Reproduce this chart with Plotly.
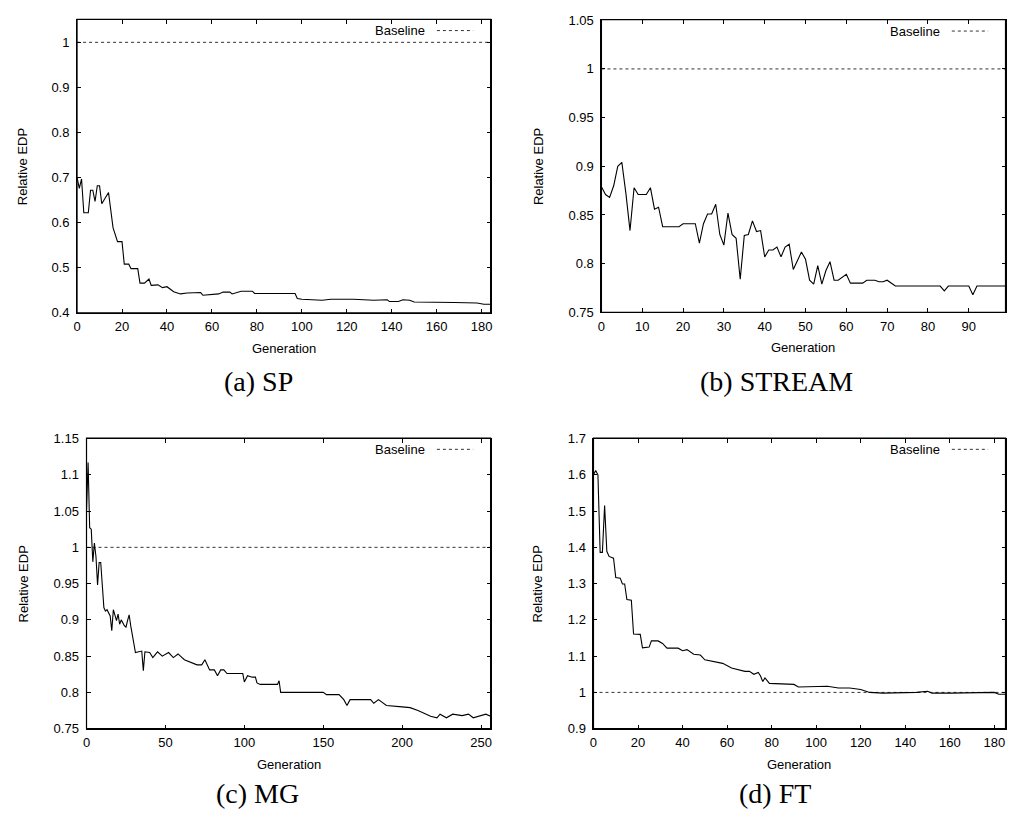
import plotly.graph_objects as go

# ---------------- data ----------------
gen_a = [0, 1, 2, 3, 5, 6, 7, 8, 9, 10, 11, 14, 16, 18, 20, 21, 23, 24, 27, 28, 30, 32, 33, 36, 38, 40, 43, 46, 49,
         52, 53, 55, 56, 59, 63, 65, 68, 69, 73, 78, 79, 97, 98, 100, 105, 109, 113, 117, 123, 132, 138, 139, 143,
         145, 148, 150, 160, 168, 178, 181, 184]
edp_a = [0.700, 0.676, 0.697, 0.622, 0.622, 0.672, 0.672, 0.647, 0.682, 0.682, 0.642, 0.667, 0.589, 0.558, 0.558,
         0.508, 0.508, 0.498, 0.498, 0.466, 0.466, 0.475, 0.461, 0.462, 0.456, 0.458, 0.447, 0.442, 0.444, 0.444,
         0.445, 0.445, 0.439, 0.440, 0.442, 0.446, 0.446, 0.442, 0.448, 0.448, 0.443, 0.443, 0.432, 0.430, 0.429,
         0.428, 0.430, 0.430, 0.430, 0.428, 0.429, 0.425, 0.425, 0.429, 0.428, 0.424, 0.424, 0.423, 0.422, 0.419,
         0.419]

gen_b = [0, 1, 2, 3, 4, 5, 6, 7, 8, 9, 11, 12, 13, 14, 15, 19, 20, 23, 24, 25, 26, 27, 28, 29, 30, 31, 32, 33, 34,
         35, 36, 37, 38, 39, 40, 41, 42, 43, 44, 45, 46, 47, 49, 50, 51, 52, 53, 54, 55, 56, 57, 58, 60, 61, 64, 65,
         67, 68, 69, 70, 72, 83, 84, 85, 90, 91, 92, 99]
edp_b = [0.879, 0.871, 0.868, 0.880, 0.900, 0.904, 0.872, 0.834, 0.878, 0.871, 0.871, 0.878, 0.856, 0.858, 0.838,
         0.838, 0.841, 0.841, 0.821, 0.841, 0.851, 0.851, 0.861, 0.830, 0.819, 0.852, 0.830, 0.826, 0.784, 0.829,
         0.830, 0.844, 0.833, 0.834, 0.807, 0.814, 0.814, 0.817, 0.807, 0.817, 0.820, 0.794, 0.812, 0.8045, 0.783,
         0.779, 0.798, 0.779, 0.793, 0.802, 0.783, 0.783, 0.789, 0.780, 0.780, 0.783, 0.783, 0.7815, 0.7815, 0.783,
         0.777, 0.777, 0.772, 0.777, 0.777, 0.768, 0.777, 0.777]

gen_c = [0, 1, 2, 3, 4, 5, 6, 7, 8, 9, 11, 12, 13, 15, 16, 17, 19, 20, 21, 22, 24, 25, 26, 27, 28, 30, 31, 35, 36,
         37, 40, 42, 45, 48, 52, 55, 58, 62, 66, 70, 73, 75, 78, 81, 83, 85, 87, 89, 99, 100, 102, 105, 107, 108,
         110, 121, 122, 123, 150, 152, 160, 163, 165, 167, 180, 182, 185, 190, 200, 205, 210, 213, 218, 222, 224,
         228, 232, 238, 242, 245, 250, 253, 256]
edp_c = [1.050, 1.117, 1.027, 1.025, 0.980, 1.006, 0.987, 0.948, 0.979, 0.979, 0.917, 0.912, 0.914, 0.9055, 0.885,
         0.914, 0.899, 0.908, 0.894, 0.900, 0.892, 0.890, 0.899, 0.907, 0.892, 0.865, 0.855, 0.857, 0.830, 0.856,
         0.855, 0.848, 0.856, 0.850, 0.855, 0.848, 0.853, 0.845, 0.842, 0.838, 0.838, 0.845, 0.831, 0.831, 0.823,
         0.831, 0.831, 0.826, 0.826, 0.8145, 0.823, 0.821, 0.821, 0.813, 0.811, 0.811, 0.816, 0.800, 0.800, 0.797,
         0.797, 0.790, 0.782, 0.790, 0.790, 0.785, 0.790, 0.782, 0.780, 0.779, 0.775, 0.772, 0.767, 0.765, 0.770,
         0.765, 0.770, 0.768, 0.770, 0.765, 0.768, 0.770, 0.767]

gen_d = [0, 1, 2, 3, 4, 5, 6, 7, 9, 10, 12, 13, 14, 15, 17, 18, 21, 22, 25, 26, 29, 31, 33, 38, 40, 42, 45, 48, 50,
         55, 58, 62, 68, 70, 72, 74, 75, 76, 77, 79, 90, 92, 100, 105, 110, 115, 120, 124, 130, 140, 145, 150, 152,
         160, 170, 180, 182, 185]
edp_d = [1.600, 1.612, 1.600, 1.386, 1.386, 1.515, 1.389, 1.375, 1.370, 1.317, 1.315, 1.299, 1.299, 1.256, 1.254,
         1.161, 1.160, 1.123, 1.125, 1.142, 1.142, 1.135, 1.122, 1.122, 1.115, 1.118, 1.105, 1.103, 1.090, 1.085,
         1.080, 1.067, 1.058, 1.058, 1.050, 1.055, 1.045, 1.030, 1.040, 1.025, 1.022, 1.015, 1.015, 1.017, 1.012,
         1.012, 1.008, 1.000, 0.998, 0.999, 1.000, 1.003, 0.998, 0.998, 0.999, 1.000, 0.995, 0.995]

baseline = 1.0
captions = ["(a) SP", "(b) STREAM", "(c) MG", "(d) FT"]
x_title = "Generation"
y_title = "Relative EDP"
legend_label = "Baseline"

panels = [
    dict(gen=gen_a, edp=edp_a, xr=[0, 184], yr=[0.4, 1.05], xt=list(range(0, 181, 20)),
         yt=[0.4, 0.5, 0.6, 0.7, 0.8, 0.9, 1.0]),
    dict(gen=gen_b, edp=edp_b, xr=[0, 99], yr=[0.75, 1.05], xt=list(range(0, 91, 10)),
         yt=[0.75, 0.8, 0.85, 0.9, 0.95, 1.0, 1.05]),
    dict(gen=gen_c, edp=edp_c, xr=[0, 256], yr=[0.75, 1.15], xt=list(range(0, 251, 50)),
         yt=[0.75, 0.8, 0.85, 0.9, 0.95, 1.0, 1.05, 1.1, 1.15]),
    dict(gen=gen_d, edp=edp_d, xr=[0, 185], yr=[0.9, 1.7], xt=list(range(0, 181, 20)),
         yt=[0.9, 1.0, 1.1, 1.2, 1.3, 1.4, 1.5, 1.6, 1.7]),
]

# ---------------- layout geometry (pixels) ----------------
W, H = 1010, 827
boxes = [  # left, right, top, bottom in pixels
    (73.5, 489.5, 13, 311.5),
    (601, 1007.5, 13.5, 311),
    (83, 489.5, 439.5, 735),
    (593, 1007.5, 439.5, 735),
]
ytitle_x = [18, 537, 20, 537]
caption_pos = [(256, 381), (777, 381), (255, 801), (776, 801)]

fig = go.Figure()
tickfont = dict(family="Liberation Sans, Arial, sans-serif", size=13, color="black")
annotations = []
shapes = []
axcommon = dict(showline=True, linecolor="black", linewidth=1, mirror="ticks", ticks="inside",
                ticklen=4, tickcolor="black", tickwidth=1, showgrid=False, zeroline=False,
                tickfont=tickfont)

for i, (p, box) in enumerate(zip(panels, boxes)):
    n = "" if i == 0 else str(i + 1)
    xa, ya = "x" + n, "y" + n
    xt_name = "x" + str(i + 5)  # top tick axis
    L, R, T, B = box
    fig.add_trace(go.Scatter(x=p["xr"], y=[baseline, baseline], mode="lines", xaxis=xa, yaxis=ya,
                             line=dict(color="#333333", width=1, dash="dot"), showlegend=False,
                             name=legend_label, hoverinfo="skip"))
    fig.add_trace(go.Scatter(x=p["gen"], y=p["edp"], mode="lines", xaxis=xa, yaxis=ya,
                             line=dict(color="black", width=1.1), showlegend=False))
    # invisible trace so that the top tick axis is drawn
    fig.add_trace(go.Scatter(x=p["xr"], y=[baseline, baseline], mode="lines", xaxis=xt_name, yaxis=ya,
                             line=dict(width=0), opacity=0, showlegend=False, hoverinfo="skip"))
    fig.update_layout({
        "xaxis" + n: dict(domain=[L / W, R / W], anchor=ya, range=p["xr"], tickvals=p["xt"],
                          ticklabelstandoff=2, **axcommon),
        "yaxis" + n: dict(domain=[1 - B / H, 1 - T / H], anchor=xa, range=p["yr"], tickvals=p["yt"],
                          ticklabelstandoff=4, **axcommon),
        "xaxis" + str(i + 5): dict(overlaying=xa, anchor=ya, side="top", range=p["xr"], tickvals=p["xt"],
                                   showticklabels=False, showline=True, linecolor="black", linewidth=1,
                                   ticks="inside", ticklen=4, tickcolor="black", tickwidth=1,
                                   showgrid=False, zeroline=False),
    })
    # frame drawn in paper coordinates (never clipped)
    shapes.append(dict(type="rect", xref="paper", yref="paper", x0=L / W, x1=R / W,
                       y0=1 - B / H, y1=1 - (T - 0.5) / H,
                       line=dict(color="black", width=1.2), layer="above"))
    # axis titles
    annotations.append(dict(x=(L + R) / 2 / W, y=1 - (B + 36) / H, xref="paper", yref="paper",
                            text=x_title, showarrow=False, xanchor="center", yanchor="middle",
                            font=tickfont))
    annotations.append(dict(x=ytitle_x[i] / W, y=1 - (T + B) / 2 / H, xref="paper", yref="paper",
                            text=y_title, showarrow=False, textangle=-90, xanchor="center",
                            yanchor="middle", font=tickfont))
    # caption
    cx, cy = caption_pos[i]
    annotations.append(dict(x=cx / W, y=1 - cy / H, xref="paper", yref="paper", text=captions[i],
                            showarrow=False, xanchor="center", yanchor="middle",
                            font=dict(family="Liberation Serif, Times New Roman, serif", size=28,
                                      color="black")))
    # legend key (text left of the line sample, as in the original)
    ly = T + 11
    annotations.append(dict(x=(R - 64) / W, y=1 - ly / H, xref="paper", yref="paper", text=legend_label,
                            showarrow=False, xanchor="right", yanchor="middle", font=tickfont))
    shapes.append(dict(type="line", xref="paper", yref="paper", x0=(R - 54) / W, x1=(R - 17.5) / W,
                       y0=1 - ly / H, y1=1 - ly / H, line=dict(color="#333333", width=1, dash="dot")))

fig.update_layout(width=W, height=H, margin=dict(l=0, r=0, t=0, b=0), paper_bgcolor="white",
                  plot_bgcolor="white", showlegend=False, annotations=annotations, shapes=shapes)

fig.write_html("out.html", config={"displayModeBar": False},
               post_script="document.body.style.margin='0';document.body.style.overflow='hidden';")
